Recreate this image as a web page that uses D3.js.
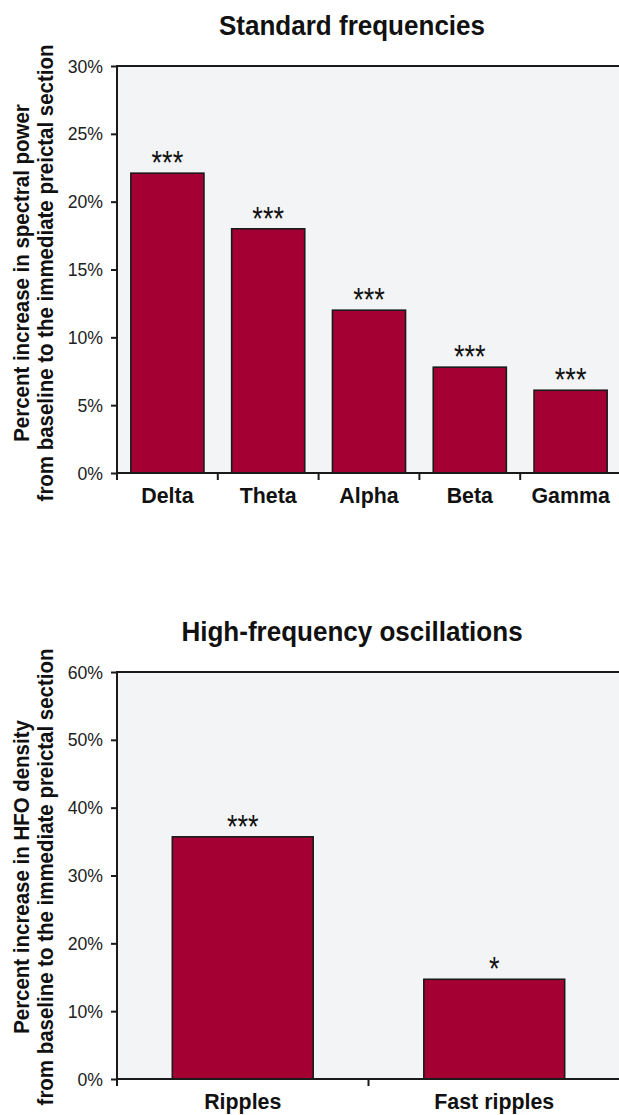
<!DOCTYPE html>
<html>
<head>
<meta charset="utf-8">
<script src="https://cdn.jsdelivr.net/npm/d3@7"></script>
<style>
  html, body { margin: 0; padding: 0; background: #ffffff; }
  svg { display: block; }
</style>
</head>
<body>
<svg id="chart" width="619" height="1115"></svg>
<script>
// ---- Data: Standard frequencies ----
const stdCategories = ["Delta", "Theta", "Alpha", "Beta", "Gamma"];
const stdValues = [22.1, 18.0, 12.0, 7.8, 6.1];
const stdStars = ["***", "***", "***", "***", "***"];
const stdTicks = [0, 5, 10, 15, 20, 25, 30];
const stdTitle = "Standard frequencies";
const stdYLabel = ["Percent increase in spectral power", "from baseline to the immediate preictal section"];

// ---- Data: High-frequency oscillations ----
const hfoCategories = ["Ripples", "Fast ripples"];
const hfoValues = [35.7, 14.7];
const hfoStars = ["***", "*"];
const hfoTicks = [0, 10, 20, 30, 40, 50, 60];
const hfoTitle = "High-frequency oscillations";
const hfoYLabel = ["Percent increase in HFO density", "from baseline to the immediate preictal section"];

const svg = d3.select("#chart");
const FONT = '"Liberation Sans", Arial, sans-serif';
const SX = 0.93; // horizontal condensing of text
const BAR = "#a50034";
const BG = "#f3f4f6";
const INK = "#1a1a1a";

function drawChart(opt) {
  const g = svg.append("g");
  const x = d3.scaleBand()
    .domain(opt.categories)
    .range([opt.left, opt.right])
    .paddingInner(opt.padInner)
    .paddingOuter(opt.padInner / 2);
  const y = d3.scaleLinear()
    .domain([0, d3.max(opt.ticks)])
    .range([opt.bottom, opt.top]);

  // plot background
  g.append("rect")
    .attr("x", opt.left).attr("y", opt.top)
    .attr("width", opt.right - opt.left + 5)
    .attr("height", opt.bottom - opt.top)
    .attr("fill", BG);

  // top border
  g.append("line")
    .attr("x1", opt.left).attr("x2", opt.right + 5)
    .attr("y1", opt.top).attr("y2", opt.top)
    .attr("stroke", INK).attr("stroke-width", 2);

  // bars
  const data = opt.categories.map((c, i) => ({ c, v: opt.values[i], s: opt.stars[i] }));
  g.selectAll("rect.bar").data(data).join("rect")
    .attr("class", "bar")
    .attr("x", d => x(d.c))
    .attr("y", d => y(d.v))
    .attr("width", x.bandwidth())
    .attr("height", d => y(0) - y(d.v))
    .attr("fill", BAR)
    .attr("stroke", INK)
    .attr("stroke-width", 1.6);

  // significance stars
  g.selectAll("text.star").data(data).join("text")
    .attr("class", "star")
    .attr("transform", d => `translate(${x(d.c) + x.bandwidth() / 2},${y(d.v) + 1}) scale(0.8,1)`)
    .attr("text-anchor", "middle")
    .attr("font-family", FONT)
    .attr("font-size", 34)
    .attr("fill", "#111")
    .text(d => d.s);

  // y axis
  const yAxis = d3.axisLeft(y)
    .tickValues(opt.ticks)
    .tickFormat(d => d + "%")
    .tickSize(6)
    .tickPadding(8);
  const ya = g.append("g")
    .attr("transform", `translate(${opt.left},0)`)
    .call(yAxis);
  ya.select(".domain").remove();
  ya.selectAll(".tick line").attr("stroke", INK).attr("stroke-width", 2);
  ya.selectAll(".tick text")
    .attr("x", -14 / SX)
    .attr("transform", `scale(${SX},1)`)
    .attr("font-family", FONT)
    .attr("font-size", 19)
    .attr("fill", "#222");
  g.append("line")
    .attr("x1", opt.left).attr("x2", opt.left)
    .attr("y1", opt.top - 1).attr("y2", opt.bottom + 7)
    .attr("stroke", INK).attr("stroke-width", 2);

  // x axis
  const xAxis = d3.axisBottom(x).tickSize(0).tickPadding(14);
  const xa = g.append("g")
    .attr("transform", `translate(0,${opt.bottom})`)
    .call(xAxis);
  xa.select(".domain").remove();
  xa.selectAll(".tick text")
    .attr("transform", `scale(${SX},1)`)
    .attr("font-family", FONT)
    .attr("font-weight", "bold")
    .attr("font-size", 23)
    .attr("fill", "#111");
  g.append("line")
    .attr("x1", opt.left).attr("x2", opt.right + 5)
    .attr("y1", opt.bottom).attr("y2", opt.bottom)
    .attr("stroke", INK).attr("stroke-width", 2);
  // tick marks at category boundaries
  const bounds = opt.categories.slice(1).map(c => x(c) - x.step() * opt.padInner / 2);
  g.selectAll("line.xtick").data(bounds).join("line")
    .attr("class", "xtick")
    .attr("x1", d => d).attr("x2", d => d)
    .attr("y1", opt.bottom).attr("y2", opt.bottom + 7)
    .attr("stroke", INK).attr("stroke-width", 2);

  // title
  g.append("text")
    .attr("transform", `translate(${opt.titleX},${opt.titleY}) scale(${SX},1)`)
    .attr("text-anchor", "middle")
    .attr("font-family", FONT)
    .attr("font-weight", "bold")
    .attr("font-size", 28)
    .attr("fill", "#111")
    .text(opt.title);

  // y-axis label (two lines)
  const lab = g.append("text")
    .attr("transform", `translate(${opt.labelX},${opt.labelCY}) rotate(-90) scale(${SX},1)`)
    .attr("text-anchor", "middle")
    .attr("font-family", FONT)
    .attr("font-weight", "bold")
    .attr("font-size", 22)
    .attr("fill", "#111");
  lab.append("tspan").attr("x", 0).attr("y", 0).text(opt.yLabel[0]);
  lab.append("tspan").attr("x", 0).attr("y", 24).text(opt.yLabel[1]);
}

drawChart({
  categories: stdCategories, values: stdValues, stars: stdStars, ticks: stdTicks,
  title: stdTitle, yLabel: stdYLabel,
  left: 117, right: 621, top: 66, bottom: 473, padInner: 0.275,
  titleX: 352, titleY: 35, labelX: 29, labelCY: 273
});

drawChart({
  categories: hfoCategories, values: hfoValues, stars: hfoStars, ticks: hfoTicks,
  title: hfoTitle, yLabel: hfoYLabel,
  left: 117, right: 620, top: 672, bottom: 1079, padInner: 0.44,
  titleX: 352, titleY: 641, labelX: 29, labelCY: 877
});
</script>
</body>
</html>
